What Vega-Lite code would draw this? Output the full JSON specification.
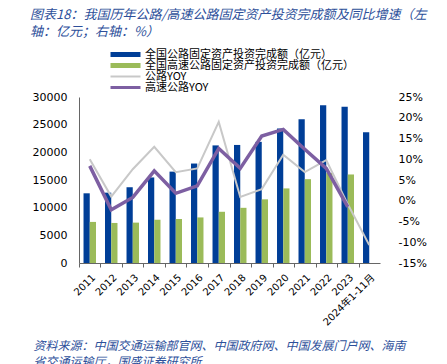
{
  "$schema": "https://vega.github.io/schema/vega-lite/v6.json",
  "width": 301,
  "height": 166,
  "autosize": "none",
  "padding": {"left": 79, "top": 97, "right": 67, "bottom": 101},
  "background": "white",
  "config": {
    "font": "DejaVu Sans, Noto Sans CJK SC",
    "view": {"stroke": null},
    "axis": {"grid": false, "labelColor": "#000", "labelFont": "DejaVu Sans, Noto Sans CJK SC"}
  },
  "title": {
    "text": ["图表18：我国历年公路/高速公路固定资产投资完成额及同比增速（左", "轴：亿元；右轴：%）"],
    "anchor": "start",
    "frame": "group",
    "orient": "top",
    "font": "Noto Sans CJK SC",
    "fontSize": 13,
    "fontStyle": "italic",
    "fontWeight": "normal",
    "color": "#2D4F9A",
    "lineHeight": 17,
    "baseline": "top",
    "offset": 0,
    "dx": -49,
    "dy": -10.5
  },
  "datasets": {
    "bars": [
      {"year": "2011", "series": "全国公路固定资产投资完成额（亿元）", "value": 12596},
      {"year": "2012", "series": "全国公路固定资产投资完成额（亿元）", "value": 12714},
      {"year": "2013", "series": "全国公路固定资产投资完成额（亿元）", "value": 13692},
      {"year": "2014", "series": "全国公路固定资产投资完成额（亿元）", "value": 15460},
      {"year": "2015", "series": "全国公路固定资产投资完成额（亿元）", "value": 16513},
      {"year": "2016", "series": "全国公路固定资产投资完成额（亿元）", "value": 17976},
      {"year": "2017", "series": "全国公路固定资产投资完成额（亿元）", "value": 21253},
      {"year": "2018", "series": "全国公路固定资产投资完成额（亿元）", "value": 21335},
      {"year": "2019", "series": "全国公路固定资产投资完成额（亿元）", "value": 21895},
      {"year": "2020", "series": "全国公路固定资产投资完成额（亿元）", "value": 24312},
      {"year": "2021", "series": "全国公路固定资产投资完成额（亿元）", "value": 25995},
      {"year": "2022", "series": "全国公路固定资产投资完成额（亿元）", "value": 28527},
      {"year": "2023", "series": "全国公路固定资产投资完成额（亿元）", "value": 28240},
      {"year": "2024年1-11月", "series": "全国公路固定资产投资完成额（亿元）", "value": 23620},
      {"year": "2011", "series": "全国高速公路固定资产投资完成额（亿元）", "value": 7424},
      {"year": "2012", "series": "全国高速公路固定资产投资完成额（亿元）", "value": 7238},
      {"year": "2013", "series": "全国高速公路固定资产投资完成额（亿元）", "value": 7297},
      {"year": "2014", "series": "全国高速公路固定资产投资完成额（亿元）", "value": 7818},
      {"year": "2015", "series": "全国高速公路固定资产投资完成额（亿元）", "value": 7950},
      {"year": "2016", "series": "全国高速公路固定资产投资完成额（亿元）", "value": 8235},
      {"year": "2017", "series": "全国高速公路固定资产投资完成额（亿元）", "value": 9257},
      {"year": "2018", "series": "全国高速公路固定资产投资完成额（亿元）", "value": 9972},
      {"year": "2019", "series": "全国高速公路固定资产投资完成额（亿元）", "value": 11504},
      {"year": "2020", "series": "全国高速公路固定资产投资完成额（亿元）", "value": 13479},
      {"year": "2021", "series": "全国高速公路固定资产投资完成额（亿元）", "value": 15151},
      {"year": "2022", "series": "全国高速公路固定资产投资完成额（亿元）", "value": 16260},
      {"year": "2023", "series": "全国高速公路固定资产投资完成额（亿元）", "value": 16000}
    ],
    "gray": [
      {"year": "2011", "series": "公路YOY", "yoy": 10.0},
      {"year": "2012", "series": "公路YOY", "yoy": 1.0},
      {"year": "2013", "series": "公路YOY", "yoy": 7.6},
      {"year": "2014", "series": "公路YOY", "yoy": 13.0},
      {"year": "2015", "series": "公路YOY", "yoy": 6.9},
      {"year": "2016", "series": "公路YOY", "yoy": 7.8},
      {"year": "2017", "series": "公路YOY", "yoy": 19.0},
      {"year": "2018", "series": "公路YOY", "yoy": 0.9},
      {"year": "2019", "series": "公路YOY", "yoy": 2.8},
      {"year": "2020", "series": "公路YOY", "yoy": 11.1},
      {"year": "2021", "series": "公路YOY", "yoy": 6.9},
      {"year": "2022", "series": "公路YOY", "yoy": 9.8},
      {"year": "2023", "series": "公路YOY", "yoy": -0.8},
      {"year": "2024年1-11月", "series": "公路YOY", "yoy": -10.7}
    ],
    "purple": [
      {"year": "2011", "series": "高速公路YOY", "yoy": 8.4},
      {"year": "2012", "series": "高速公路YOY", "yoy": -2.2},
      {"year": "2013", "series": "高速公路YOY", "yoy": 0.8},
      {"year": "2014", "series": "高速公路YOY", "yoy": 7.2},
      {"year": "2015", "series": "高速公路YOY", "yoy": 1.8},
      {"year": "2016", "series": "高速公路YOY", "yoy": 3.6},
      {"year": "2017", "series": "高速公路YOY", "yoy": 12.6},
      {"year": "2018", "series": "高速公路YOY", "yoy": 7.8},
      {"year": "2019", "series": "高速公路YOY", "yoy": 15.6},
      {"year": "2020", "series": "高速公路YOY", "yoy": 17.2},
      {"year": "2021", "series": "高速公路YOY", "yoy": 12.4},
      {"year": "2022", "series": "高速公路YOY", "yoy": 7.8},
      {"year": "2023", "series": "高速公路YOY", "yoy": -1.5}
    ]
  },
  "encoding": {
    "x": {
      "field": "year",
      "type": "nominal",
      "sort": null,
      "scale": {"paddingInner": 0.42, "paddingOuter": 0.21},
      "axis": {
        "title": ["资料来源：中国交通运输部官网、中国政府网、中国发展门户网、海南", "省交通运输厅，国盛证券研究所"],
        "titleX": -46,
        "titleY": 77,
        "titleAlign": "left",
        "titleAnchor": "start",
        "titleBaseline": "top",
        "titleAngle": 0,
        "titleFont": "Noto Sans CJK SC",
        "titleFontSize": 12,
        "titleFontStyle": "italic",
        "titleFontWeight": "normal",
        "titleColor": "#2D4F9A",
        "titleLineHeight": 16,
        "labelAngle": -45,
        "labelAlign": "right",
        "labelBaseline": "top",
        "labelFontSize": 10,
        "labelPadding": 5,
        "labelOffset": 10.75,
        "tickOffset": -10.75,
        "tickSize": 4,
        "tickColor": "#666",
        "domainColor": "#666",
        "labelOverlap": false
      }
    }
  },
  "layer": [
    {
      "data": {"name": "bars"},
      "mark": {"type": "bar"},
      "encoding": {
        "xOffset": {
          "field": "series",
          "type": "nominal",
          "scale": {"domain": ["全国公路固定资产投资完成额（亿元）", "全国高速公路固定资产投资完成额（亿元）"], "paddingInner": 0, "paddingOuter": 0}
        },
        "y": {
          "field": "value",
          "type": "quantitative",
          "scale": {"domain": [0, 30000]},
          "axis": {
            "title": null,
            "values": [0, 5000, 10000, 15000, 20000, 25000, 30000],
            "format": "d",
            "labelFontSize": 11,
            "labelPadding": 12,
            "ticks": false,
            "domainColor": "#666"
          }
        },
        "color": {
          "field": "series",
          "type": "nominal",
          "scale": {
            "domain": ["全国公路固定资产投资完成额（亿元）", "全国高速公路固定资产投资完成额（亿元）", "公路YOY", "高速公路YOY"],
            "range": ["#003E97", "#9BBB59", "#C8C8C8", "#7D5FA2"]
          },
          "legend": {
            "title": null,
            "orient": "none",
            "legendX": 41,
            "legendY": -48,
            "padding": 0,
            "gridAlign": "all",
            "rowPadding": -2,
            "labelFontSize": 11,
            "labelFont": "Noto Sans CJK SC",
            "labelColor": "#000",
            "labelLimit": 300,
            "labelOffset": 14,
            "symbolType": "M-3,-0.5H3V0.5H-3Z",
            "symbolSize": 100,
            "encode": {
              "symbols": {
                "update": {
                  "shape": {"signal": "datum.value === '公路YOY' ? 'M-3,-0.2H3V0.2H-3Z' : (datum.value === '高速公路YOY' ? 'M-3,-0.3H3V0.3H-3Z' : 'M-3,-0.5H3V0.5H-3Z')"},
                  "fill": {"scale": "color", "field": "value"},
                  "fillOpacity": {"value": 1},
                  "stroke": {"value": null},
                  "strokeWidth": {"value": 0},
                  "opacity": {"value": 1}
                }
              }
            }
          }
        }
      }
    },
    {
      "data": {"name": "gray"},
      "mark": {"type": "line", "strokeWidth": 2},
      "encoding": {
        "y": {
          "field": "yoy",
          "type": "quantitative",
          "scale": {"domain": [-15, 25]},
          "axis": null
        },
        "color": {"field": "series", "type": "nominal"}
      }
    },
    {
      "data": {"name": "purple"},
      "mark": {"type": "line", "strokeWidth": 3.5},
      "encoding": {
        "y": {
          "field": "yoy",
          "type": "quantitative",
          "scale": {"domain": [-15, 25]},
          "axis": {
            "orient": "right",
            "title": null,
            "values": [-15, -10, -5, 0, 5, 10, 15, 20, 25],
            "labelExpr": "datum.value + '%'",
            "labelAlign": "left",
            "labelFontSize": 11,
            "labelPadding": 18,
            "ticks": false,
            "domain": false
          }
        },
        "color": {"field": "series", "type": "nominal"}
      }
    }
  ],
  "resolve": {"scale": {"y": "independent"}}
}
